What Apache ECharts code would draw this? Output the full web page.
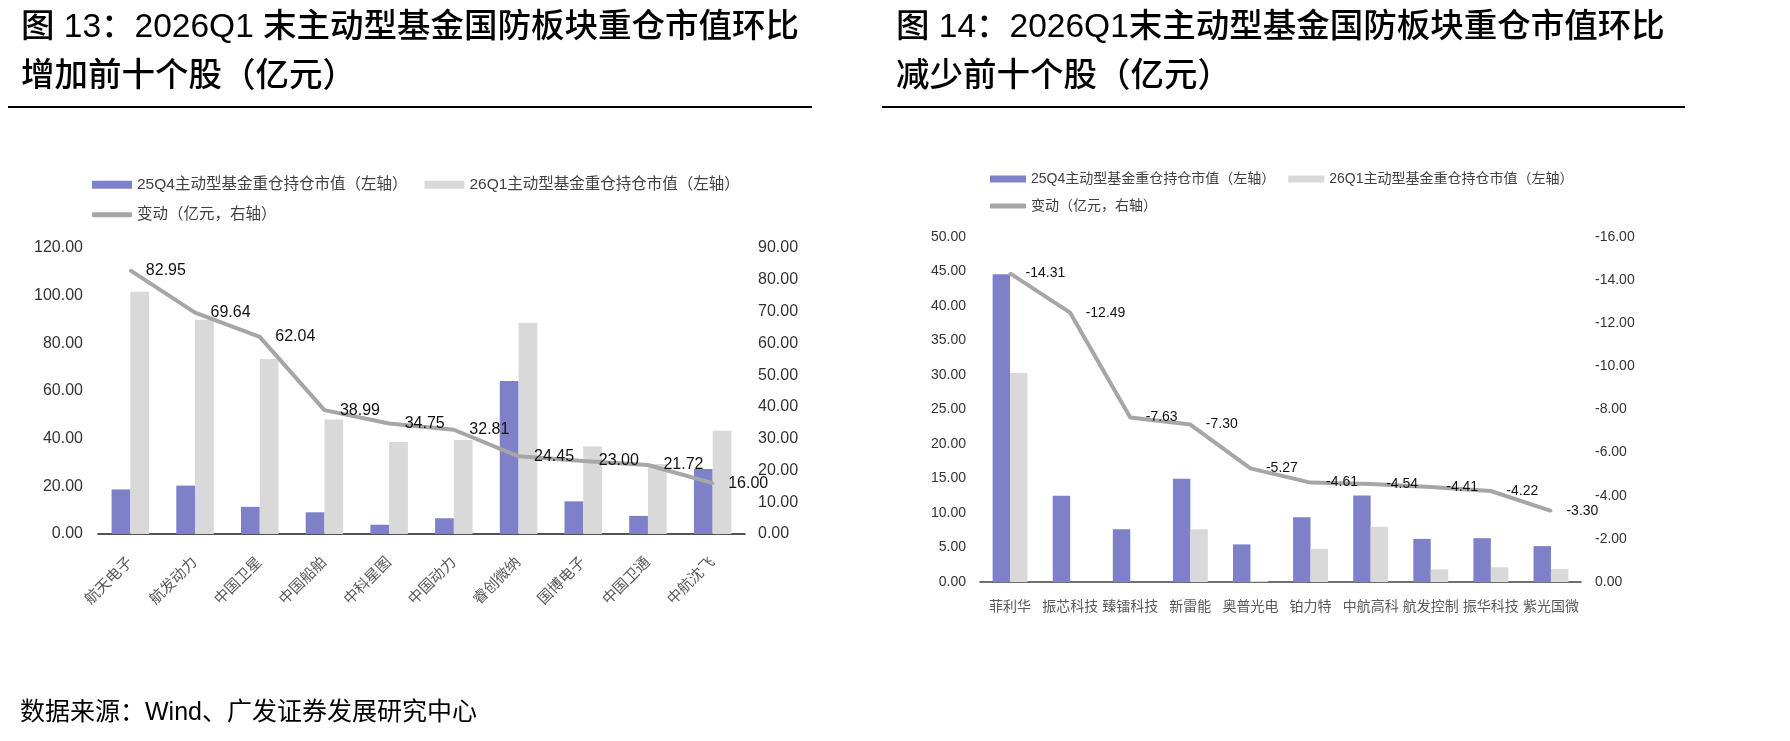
<!DOCTYPE html>
<html>
<head>
<meta charset="UTF-8">
<title>国防板块重仓市值环比</title>
<script src="https://cdn.jsdelivr.net/npm/echarts@6/dist/echarts.min.js"></script>
<style>
  html, body { margin: 0; padding: 0; background: #fff; }
  #main { width: 1790px; height: 741px; }
</style>
</head>
<body>
<div id="main"></div>
<script type="text/javascript">
// 图13：环比增加前十
var upNames = ['航天电子', '航发动力', '中国卫星', '中国船舶', '中科星图', '中国动力', '睿创微纳', '国博电子', '中国卫通', '中航沈飞'];
var up25Q4 = [18.7, 20.3, 11.4, 9.1, 3.9, 6.6, 64.2, 13.7, 7.6, 27.3];
var up26Q1 = [101.65, 89.94, 73.44, 48.09, 38.65, 39.41, 88.65, 36.7, 29.32, 43.3];
var upChange = [82.95, 69.64, 62.04, 38.99, 34.75, 32.81, 24.45, 23.00, 21.72, 16.00];

// 图14：环比减少前十
var downNames = ['菲利华', '振芯科技', '臻镭科技', '新雷能', '奥普光电', '铂力特', '中航高科', '航发控制', '振华科技', '紫光国微'];
var down25Q4 = [44.6, 12.49, 7.63, 14.95, 5.45, 9.4, 12.55, 6.25, 6.35, 5.2];
var down26Q1 = [30.29, 0, 0, 7.65, 0.18, 4.79, 8.01, 1.84, 2.13, 1.9];
var downChange = [-14.31, -12.49, -7.63, -7.30, -5.27, -4.61, -4.54, -4.41, -4.22, -3.30];

var nameQ4 = '25Q4主动型基金重仓持仓市值（左轴）';
var nameQ1 = '26Q1主动型基金重仓持仓市值（左轴）';
var nameChg = '变动（亿元，右轴）';

var FONT = '"Liberation Sans", "Noto Sans CJK SC", sans-serif';
var PURPLE = '#7E80C8';
var LIGHT = '#D9D9D9';
var LINE = '#A6A6A6';

function fmt(v) {
  var s = Math.abs(v) < 1e-9 ? 0 : v;
  return s.toFixed(2);
}

var myChart = echarts.init(document.getElementById('main'));

myChart.setOption({
  backgroundColor: '#fff',
  animation: false,
  textStyle: { fontFamily: FONT },
  title: [{
    text: '图 13：2026Q1 末主动型基金国防板块重仓市值环比\n增加前十个股（亿元）',
    left: 21, top: 3, padding: 0,
    textStyle: { fontSize: 33.5, fontWeight: 500, color: '#000', lineHeight: 49, fontFamily: FONT }
  }, {
    text: '图 14：2026Q1末主动型基金国防板块重仓市值环比\n减少前十个股（亿元）',
    left: 896, top: 3, padding: 0,
    textStyle: { fontSize: 33.5, fontWeight: 500, color: '#000', lineHeight: 49, fontFamily: FONT }
  }, {
    text: '数据来源：Wind、广发证券发展研究中心',
    left: 20, top: 701, padding: 0,
    textStyle: { fontSize: 25, fontWeight: 'normal', color: '#000', fontFamily: FONT }
  }],
  graphic: [
    { type: 'line', shape: { x1: 8, y1: 107, x2: 812, y2: 107 }, style: { stroke: '#000', lineWidth: 2 } },
    { type: 'line', shape: { x1: 882, y1: 107, x2: 1685, y2: 107 }, style: { stroke: '#000', lineWidth: 2 } }
  ],
  legend: [{
    data: [nameQ4, nameQ1],
    left: 92, top: 177, padding: 0,
    itemWidth: 40, itemHeight: 8, itemGap: 17, icon: 'rect',
    textStyle: { fontSize: 15.5, color: '#404040' },
    selectedMode: false
  }, {
    data: [nameChg],
    left: 92, top: 207, padding: 0,
    itemWidth: 40, itemHeight: 5, icon: 'roundRect',
    textStyle: { fontSize: 15.5, color: '#404040' },
    selectedMode: false
  }, {
    data: [nameQ4 + ' ', nameQ1 + ' '],
    left: 990, top: 172, padding: 0,
    itemWidth: 36, itemHeight: 7, itemGap: 13, icon: 'rect',
    formatter: function (n) { return n.trim(); },
    textStyle: { fontSize: 14, color: '#404040' },
    selectedMode: false
  }, {
    data: [nameChg + ' '],
    left: 990, top: 199, padding: 0,
    itemWidth: 36, itemHeight: 5, icon: 'roundRect',
    formatter: function (n) { return n.trim(); },
    textStyle: { fontSize: 14, color: '#404040' },
    selectedMode: false
  }],
  grid: [
    { left: 98, right: 1045, top: 248, bottom: 207 },
    { left: 980, right: 209, top: 237, bottom: 159 }
  ],
  xAxis: [{
    gridIndex: 0, type: 'category', data: upNames,
    axisLine: { lineStyle: { color: '#1a1a1a', width: 1.5 } },
    axisTick: { show: false },
    axisLabel: { rotate: 45, margin: 26, fontSize: 15, color: '#595959', interval: 0 }
  }, {
    gridIndex: 1, type: 'category', data: downNames,
    axisLine: { lineStyle: { color: '#404040', width: 1.5 } },
    axisTick: { show: false },
    axisLabel: { margin: 18, fontSize: 14, color: '#595959', interval: 0 }
  }],
  yAxis: [{
    gridIndex: 0, type: 'value', min: 0, max: 120, interval: 20,
    axisLine: { show: false }, axisTick: { show: false }, splitLine: { show: false },
    axisLabel: { fontSize: 16, color: '#333', margin: 15, formatter: fmt }
  }, {
    gridIndex: 0, type: 'value', position: 'right', min: 0, max: 90, interval: 10,
    axisLine: { show: false }, axisTick: { show: false }, splitLine: { show: false },
    axisLabel: { fontSize: 16, color: '#333', margin: 13, formatter: fmt }
  }, {
    gridIndex: 1, type: 'value', min: 0, max: 50, interval: 5,
    axisLine: { show: false }, axisTick: { show: false }, splitLine: { show: false },
    axisLabel: { fontSize: 14, color: '#333', margin: 14, formatter: fmt }
  }, {
    gridIndex: 1, type: 'value', position: 'right', min: -16, max: 0, interval: 2, inverse: true,
    axisLine: { show: false }, axisTick: { show: false }, splitLine: { show: false },
    axisLabel: { fontSize: 14, color: '#333', margin: 14, formatter: fmt }
  }],
  series: [{
    name: nameQ4, type: 'bar', xAxisIndex: 0, yAxisIndex: 0, data: up25Q4,
    itemStyle: { color: PURPLE }, barGap: '0%', barCategoryGap: '42%'
  }, {
    name: nameQ1, type: 'bar', xAxisIndex: 0, yAxisIndex: 0, data: up26Q1,
    itemStyle: { color: LIGHT }, barGap: '0%', barCategoryGap: '42%'
  }, {
    name: nameChg, type: 'line', xAxisIndex: 0, yAxisIndex: 1, data: upChange,
    symbol: 'circle', symbolSize: 3, showSymbol: true, z: 5,
    lineStyle: { color: LINE, width: 4 }, itemStyle: { color: LINE },
    label: { show: true, position: 'right', distance: 14, fontSize: 16, color: '#111', formatter: function (p) { return fmt(p.value); } }
  }, {
    name: nameQ4 + ' ', type: 'bar', xAxisIndex: 1, yAxisIndex: 2, data: down25Q4,
    itemStyle: { color: PURPLE }, barGap: '0%', barCategoryGap: '42%'
  }, {
    name: nameQ1 + ' ', type: 'bar', xAxisIndex: 1, yAxisIndex: 2, data: down26Q1,
    itemStyle: { color: LIGHT }, barGap: '0%', barCategoryGap: '42%'
  }, {
    name: nameChg + ' ', type: 'line', xAxisIndex: 1, yAxisIndex: 3, data: downChange,
    symbol: 'circle', symbolSize: 3, showSymbol: true, z: 5,
    lineStyle: { color: LINE, width: 4 }, itemStyle: { color: LINE },
    label: { show: true, position: 'right', distance: 14, fontSize: 14, color: '#111', formatter: function (p) { return fmt(p.value); } }
  }]
});
</script>
</body>
</html>
